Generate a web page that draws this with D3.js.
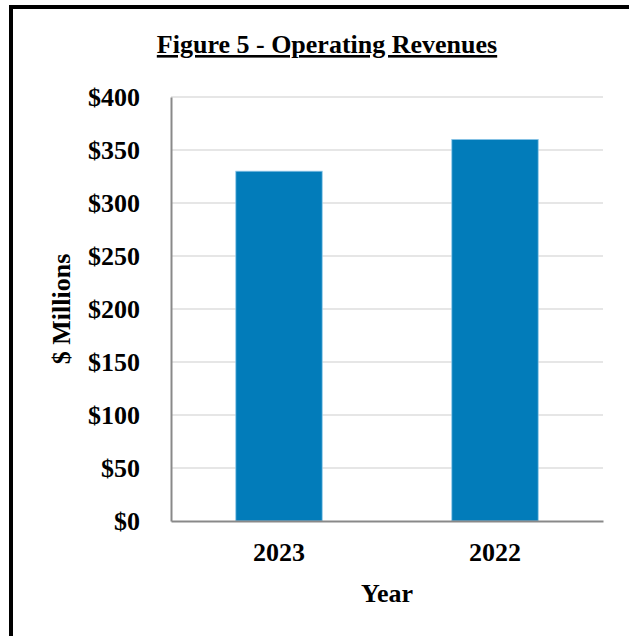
<!DOCTYPE html>
<html>
<head>
<meta charset="utf-8">
<script src="https://cdn.jsdelivr.net/npm/d3@7"></script>
<style>
  html, body { margin: 0; padding: 0; background: #fff; }
  svg { display: block; }
  text { font-family: "Liberation Serif", "Times New Roman", serif; font-weight: bold; fill: #000; }
</style>
</head>
<body>
<script>
// Operating revenues by year, in $ millions
const years = ["2023", "2022"];
const revenues = [330, 360];
const yTicks = [0, 50, 100, 150, 200, 250, 300, 350, 400];

const W = 629, H = 636;
const margin = { left: 171, right: 26, top: 97, bottom: 115 };

const svg = d3.select("body").append("svg")
  .attr("width", W).attr("height", H);

// frame around the figure
svg.append("rect")
  .attr("x", 11).attr("y", 7)
  .attr("width", W + 20).attr("height", H + 20)
  .attr("fill", "none").attr("stroke", "#000").attr("stroke-width", 4);

const x = d3.scaleBand()
  .domain(years)
  .range([margin.left, W - margin.right])
  .paddingInner(0.6)
  .paddingOuter(0.3);

const y = d3.scaleLinear()
  .domain([0, 400])
  .range([H - margin.bottom, margin.top]);

// horizontal gridlines
svg.append("g")
  .selectAll("line")
  .data(yTicks.filter(d => d > 0))
  .join("line")
  .attr("x1", margin.left).attr("x2", W - margin.right)
  .attr("y1", d => y(d)).attr("y2", d => y(d))
  .attr("stroke", "#dedede").attr("stroke-width", 1.5);

// bars
svg.append("g")
  .selectAll("rect")
  .data(years.map((yr, i) => ({ yr, v: revenues[i] })))
  .join("rect")
  .attr("x", d => x(d.yr))
  .attr("y", d => y(d.v))
  .attr("width", x.bandwidth())
  .attr("height", d => y(0) - y(d.v))
  .attr("fill", "#027cba")
  .attr("stroke", "#8cc6e8")
  .attr("stroke-width", 0.8);

// y axis
const yAxis = svg.append("g")
  .attr("transform", `translate(${margin.left},0)`)
  .call(d3.axisLeft(y).tickValues(yTicks).tickSize(0).tickPadding(31)
    .tickFormat(d => "$" + d));
yAxis.select(".domain").attr("stroke", "#898989").attr("stroke-width", 2);
yAxis.selectAll("text")
  .attr("font-family", "Liberation Serif, Times New Roman, serif")
  .attr("font-weight", "bold")
  .attr("font-size", 26)
  .attr("fill", "#000");

// x axis
const xAxis = svg.append("g")
  .attr("transform", `translate(0,${y(0)})`)
  .call(d3.axisBottom(x).tickSize(0).tickPadding(22));
xAxis.select(".domain").attr("stroke", "#898989").attr("stroke-width", 2);
xAxis.selectAll("text")
  .attr("font-family", "Liberation Serif, Times New Roman, serif")
  .attr("font-weight", "bold")
  .attr("font-size", 26)
  .attr("fill", "#000");

// title
svg.append("text")
  .attr("x", 327).attr("y", 53)
  .attr("text-anchor", "middle")
  .attr("font-size", 26)
  .attr("text-decoration", "underline")
  .text("Figure 5 - Operating Revenues");

// axis titles
svg.append("text")
  .attr("x", (margin.left + W - margin.right) / 2).attr("y", 602)
  .attr("text-anchor", "middle")
  .attr("font-size", 26)
  .text("Year");

svg.append("text")
  .attr("transform", `translate(70,${(y(0) + y(400)) / 2}) rotate(-90)`)
  .attr("text-anchor", "middle")
  .attr("font-size", 26)
  .text("$ Millions");
</script>
</body>
</html>
